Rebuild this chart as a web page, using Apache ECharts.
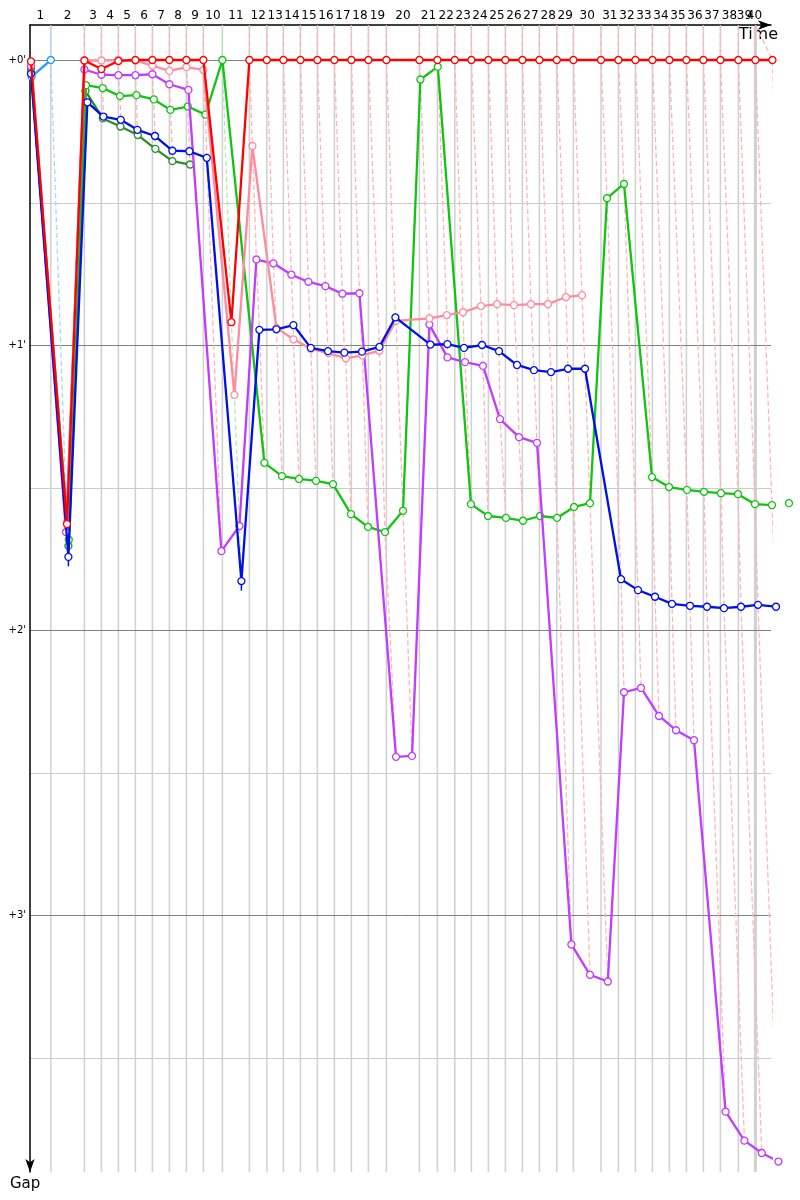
<!DOCTYPE html>
<html>
<head>
<meta charset="utf-8">
<script src="https://cdn.jsdelivr.net/npm/echarts@6/dist/echarts.min.js"></script>
<style>
  html, body { margin: 0; padding: 0; background: #fff; }
  #chart { width: 800px; height: 1200px; }
</style>
</head>
<body>
<div id="chart"></div>
<script>
// race time (s) when the leader completes each lap (index = lap, 0 = start)
var lapEnd = [0, 104, 272, 357, 442, 527, 612, 697, 782, 867, 962, 1097, 1184, 1267, 1352, 1437,
  1522, 1607, 1692, 1782, 1947, 2037, 2124, 2207, 2292, 2377, 2462, 2547, 2634, 2717, 2855,
  2942, 3027, 3112, 3197, 3282, 3367, 3452, 3542, 3627, 3712];

// where the lap numbers sit on the time axis
var lapLabelAt = [52, 188, 315, 400, 485, 570, 655, 740, 825, 915, 1030, 1141, 1226, 1310, 1395,
  1480, 1565, 1650, 1737, 1865, 1992, 2081, 2166, 2250, 2335, 2420, 2505, 2591, 2676, 2786,
  2899, 2985, 3070, 3155, 3240, 3325, 3410, 3497, 3572, 3622];
var lapLabels = lapLabelAt.map(function (v, i) { return String(i + 1); });

// gap tick labels (seconds)
var gapTicks = [0, 60, 120, 180];
var gapMinor = [30, 90, 150, 210];

// each car: [crossing time (s), gap to leader (s)] per lap
var red = [[5, 0.3], [185, 97.7], [272, 0.1], [357, 1.9], [442, 0.2], [527, 0], [612, 0], [697, 0],
  [782, 0], [867, 0], [1007, 55.2], [1097, 0], [1184, 0], [1267, 0], [1352, 0], [1437, 0], [1522, 0],
  [1607, 0], [1692, 0], [1782, 0], [1947, 0], [2037, 0], [2124, 0], [2207, 0], [2292, 0], [2377, 0],
  [2462, 0], [2547, 0], [2634, 0], [2717, 0], [2855, 0], [2942, 0], [3027, 0], [3112, 0], [3197, 0],
  [3282, 0], [3367, 0], [3452, 0], [3542, 0], [3627, 0], [3712, 0]];

var pink = [[5, 0.4], [184, 97.3], [272, 0.1], [357, 0.1], [442, 0], [527, 0.1], [612, 1.2], [697, 2.3],
  [782, 1.5], [867, 2.1], [1022, 70.5], [1112, 18.1], [1232, 56.4], [1317, 58.8], [1405, 60.8],
  [1492, 61.7], [1579, 62.8], [1662, 62.2], [1747, 61.2], [1830, 54.9], [1997, 54.4], [2084, 53.7],
  [2165, 53.1], [2255, 51.8], [2335, 51.4], [2420, 51.6], [2505, 51.4], [2590, 51.4], [2680, 49.9],
  [2760, 49.5]];

var purple = [[5, 1.3], [180, 99.4], [272, 2.0], [357, 3.1], [442, 3.2], [527, 3.2], [612, 3.0], [697, 5.1],
  [792, 6.3], [957, 103.4], [1047, 98.1], [1132, 42.0], [1217, 42.8], [1307, 45.2], [1392, 46.7],
  [1477, 47.6], [1562, 49.2], [1647, 49.1], [1830, 146.7], [1910, 146.5], [1997, 55.7], [2087, 62.6],
  [2175, 63.6], [2265, 64.4], [2350, 75.6], [2445, 79.4], [2535, 80.6], [2707, 186.2], [2800, 192.6],
  [2889, 194.0], [2970, 133.1], [3055, 132.2], [3145, 138.1], [3230, 141.1], [3320, 143.2],
  [3478, 221.4], [3572, 227.5], [3659, 230.1], [3742, 231.9]];

var green = [[5, 2.5], [194, 101.0], [280, 5.3], [364, 5.9], [450, 7.6], [532, 7.4], [619, 8.3], [702, 10.5],
  [789, 9.8], [877, 11.5], [962, 0], [1172, 84.8], [1260, 87.6], [1345, 88.2], [1430, 88.6], [1515, 89.3],
  [1605, 95.6], [1690, 98.3], [1775, 99.4], [1865, 94.9], [1952, 4.1], [2039, 1.4], [2205, 93.5],
  [2290, 96.0], [2380, 96.4], [2465, 97.0], [2550, 96.0], [2635, 96.4], [2720, 94.1], [2800, 93.3],
  [2885, 29.1], [2970, 26.1], [3110, 87.8], [3195, 89.9], [3285, 90.5], [3370, 90.9], [3455, 91.2],
  [3540, 91.4], [3625, 93.5], [3710, 93.7], [3795, 93.3]];

var darkGreen = [[5, 1.9], [192, 102.3], [277, 6.5], [364, 12.3], [452, 14.0], [539, 15.8], [627, 18.7],
  [712, 21.3], [800, 22.0]];

var blue = [[5, 2.9], [192, 104.6], [287, 8.9], [367, 11.9], [454, 12.6], [537, 14.7], [625, 16.0], [712, 19.1],
  [797, 19.2], [884, 20.6], [1057, 109.7], [1147, 56.8], [1232, 56.7], [1317, 55.8], [1404, 60.6],
  [1490, 61.3], [1572, 61.6], [1660, 61.4], [1747, 60.4], [1827, 54.2], [2002, 59.9], [2087, 59.8],
  [2170, 60.6], [2260, 60.0], [2345, 61.3], [2435, 64.2], [2520, 65.3], [2605, 65.7], [2690, 65.0],
  [2775, 65.0], [2955, 109.3], [3040, 111.6], [3125, 113.0], [3210, 114.5], [3300, 114.9], [3385, 115.1],
  [3470, 115.4], [3555, 115.1], [3640, 114.7], [3730, 115.1]];

var lightBlue = [[8, 3.5], [104, 0]];

// small pit marks hanging under two blue points: [time, from gap, to gap]
var bluePits = [[192, 104.6, 106.6], [1057, 109.7, 111.7]];

var X_MAX = 3705, Y_MIN = -7.37, Y_MAX = 234.1;

var cars = [
  { color: '#2e8b2e', data: darkGreen },
  { color: '#12c412', data: green },
  { color: '#1e9cff', data: lightBlue },
  { color: '#c03cff', data: purple },
  { color: '#ff8c9e', data: pink },
  { color: '#0010e6', data: blue },
  { color: '#ff0000', data: red }
];

var series = [];

// vertical lap lines
series.push({
  type: 'custom', silent: true, z: 0, clip: false,
  data: lapEnd.slice(1, 40).map(function (t) { return [t, 0]; }),
  renderItem: function (params, api) {
    var x = api.coord([api.value(0), 0])[0];
    var cs = params.coordSys;
    return {
      type: 'line',
      shape: { x1: x, y1: cs.y, x2: x, y2: cs.y + cs.height },
      style: { stroke: '#d0d0d0', lineWidth: params.dataIndex === 38 ? 3 : 1.5 }
    };
  }
});

// horizontal gap lines
series.push({
  type: 'custom', silent: true, z: 0, clip: false,
  data: gapTicks.concat(gapMinor).map(function (g) { return [0, g]; }),
  renderItem: function (params, api) {
    var g = api.value(1);
    var y = Math.round(api.coord([0, g])[1]) + 0.5;
    var cs = params.coordSys;
    return {
      type: 'line',
      shape: { x1: cs.x, y1: y, x2: cs.x + cs.width, y2: y },
      style: { stroke: g % 60 === 0 ? '#808080' : '#cccccc', lineWidth: 1 }
    };
  }
});

// lap numbers above the time axis (they overlap at the end, so drawn here rather than as axis labels)
series.push({
  type: 'custom', silent: true, z: 5, clip: false,
  data: lapLabelAt.map(function (t, i) { return [t, Y_MIN, i]; }),
  renderItem: function (params, api) {
    var p = api.coord([api.value(0), api.value(1)]);
    return {
      type: 'text',
      x: p[0], y: p[1] - 3,
      style: {
        text: lapLabels[api.value(2)], fontSize: 12, fill: '#000',
        fontFamily: 'DejaVu Sans', align: 'center', verticalAlign: 'bottom'
      }
    };
  }
});

// dashed lap lines through every car's crossing of that lap
var lapLineColor = { 1: '#a6d8ff', 10: '#b2ecb2' };
for (var n = 1; n <= 40; n++) {
  var pts = [];
  cars.forEach(function (c) { if (c.data[n]) pts.push(c.data[n]); });
  pts.sort(function (a, b) { return a[1] - b[1]; });
  var topT = n === 40 ? lapEnd[39] : lapEnd[n];
  series.push({
    type: 'line', silent: true, z: 1, clip: false, symbol: 'none',
    data: [[topT, Y_MIN]].concat(pts),
    lineStyle: { color: lapLineColor[n] || '#ffb4b4', width: 1.3, type: [5, 3] }
  });
}

bluePits.forEach(function (p) {
  series.push({
    type: 'line', silent: true, z: 2, clip: false, symbol: 'none',
    data: [[p[0], p[1]], [p[0], p[2]]],
    lineStyle: { color: '#0010e6', width: 1.5 }
  });
});

cars.forEach(function (c, i) {
  series.push({
    type: 'line', z: 3 + i, clip: false,
    data: c.data,
    symbol: 'circle', symbolSize: 7,
    lineStyle: { color: c.color, width: 2.3 },
    itemStyle: { color: '#fff', borderColor: c.color, borderWidth: 1.3 }
  });
});

var chart = echarts.init(document.getElementById('chart'));
chart.setOption({
  animation: false,
  backgroundColor: '#fff',
  textStyle: { fontFamily: 'DejaVu Sans' },
  grid: { left: 30, right: 29, top: 25, bottom: 28 },
  xAxis: {
    type: 'value', position: 'top', min: 0, max: X_MAX,
    axisLine: { show: true, onZero: false, symbol: ['none', 'arrow'], symbolSize: [7, 13], lineStyle: { color: '#000', width: 1.5 } },
    axisTick: { show: false },
    splitLine: { show: false },
    axisLabel: { show: false }
  },
  yAxis: {
    type: 'value', inverse: true, min: Y_MIN, max: Y_MAX,
    axisLine: { show: true, onZero: false, symbol: ['arrow', 'none'], symbolSize: [7, 13], lineStyle: { color: '#000', width: 1.5 } },
    axisTick: { show: false },
    splitLine: { show: false },
    axisLabel: {
      customValues: gapTicks, margin: 4, fontSize: 10, color: '#000',
      formatter: function (v) { return '+' + (v / 60) + "'"; }
    }
  },
  graphic: [
    { type: 'text', right: 22, top: 27, style: { text: 'Time', fontSize: 16, fill: '#000', fontFamily: 'DejaVu Sans' } },
    { type: 'text', left: 10, top: 1177, style: { text: 'Gap', fontSize: 15, fill: '#000', fontFamily: 'DejaVu Sans' } }
  ],
  series: series
});
</script>
</body>
</html>
